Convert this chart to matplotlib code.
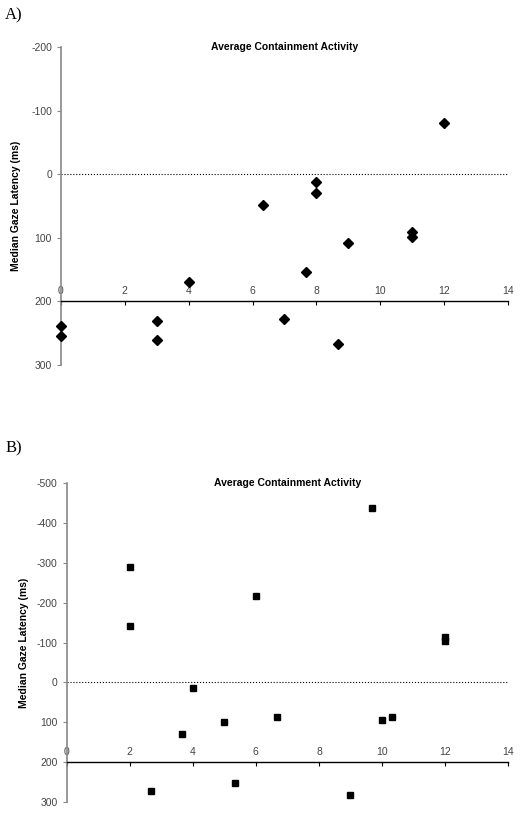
import matplotlib
matplotlib.use('Agg')
import matplotlib.pyplot as plt

plt.rcParams['font.family'] = ['Liberation Sans', 'DejaVu Sans']
plt.rcParams['axes.unicode_minus'] = False

# Panel A data (diamonds)
xA = [12, 8, 8, 6.33, 11, 11, 9, 7.67, 4, 0, 0, 3, 3, 7, 8.67]
yA = [-80, 12, 29, 48, 91, 99, 108, 154, 170, 239, 255, 231, 260, 228, 267]

# Panel B data (squares)
xB = [9.67, 2, 6, 2, 12, 12, 4, 3.67, 5, 6.67, 10, 10.33, 2.67, 5.33, 9]
yB = [-437, -289, -217, -141, -114, -104, 13, 129, 99, 87, 95, 86, 271, 252, 282]

title = 'Average Containment Activity'
ylab = 'Median Gaze Latency (ms)'
xticksA = list(range(0, 15, 2))
yticksA = list(range(-200, 301, 100))
yticksB = list(range(-500, 301, 100))

fig = plt.figure(figsize=(5.2, 8.13), dpi=100)


def setup(ax, yticks, xs, ys, marker, ms):
    ax.plot(xs, ys, linestyle='none', marker=marker, color='black',
            markersize=ms, clip_on=False, zorder=5)
    ax.axhline(0, color='black', linestyle=':', linewidth=0.8)
    ax.set_xlim(0, 14)
    ax.set_ylim(yticks[-1], yticks[0])
    ax.set_yticks(yticks)
    ax.set_xticks(xticksA)
    ax.spines['right'].set_visible(False)
    ax.spines['bottom'].set_visible(False)
    ax.spines['top'].set_position(('data', 200))
    ax.spines['top'].set_linewidth(1.0)
    ax.spines['left'].set_color('#888888')
    ax.spines['left'].set_linewidth(1.2)
    ax.xaxis.set_ticks_position('top')
    ax.tick_params(axis='x', direction='in', length=3, labelsize=7.5,
                   labelcolor='#444444', pad=4, labeltop=True, labelbottom=False)
    ax.tick_params(axis='y', direction='out', length=3, labelsize=7.5,
                   labelcolor='#444444', color='#888888')
    ax.set_ylabel(ylab, fontsize=7.5, fontweight='bold')
    ax.text(0.5, 1.0, title, transform=ax.transAxes, ha='center', va='center',
            fontsize=7.5, fontweight='bold')
    ax.patch.set_alpha(0)


axA = fig.add_axes([0.1173, 0.551, 0.8596, 0.391])
setup(axA, yticksA, xA, yA, 'D', 5.5)
axA.yaxis.set_label_coords(-0.09, 0.5)

axB = fig.add_axes([0.1282, 0.0132, 0.849, 0.393])
setup(axB, yticksB, xB, yB, 's', 5)
axB.yaxis.set_label_coords(-0.085, 0.5)

fig.text(0.01, 0.981, 'A)', fontsize=12, family='Liberation Serif', va='center')
fig.text(0.01, 0.448, 'B)', fontsize=12, family='Liberation Serif', va='center')

fig.savefig('out.png', dpi=100)
